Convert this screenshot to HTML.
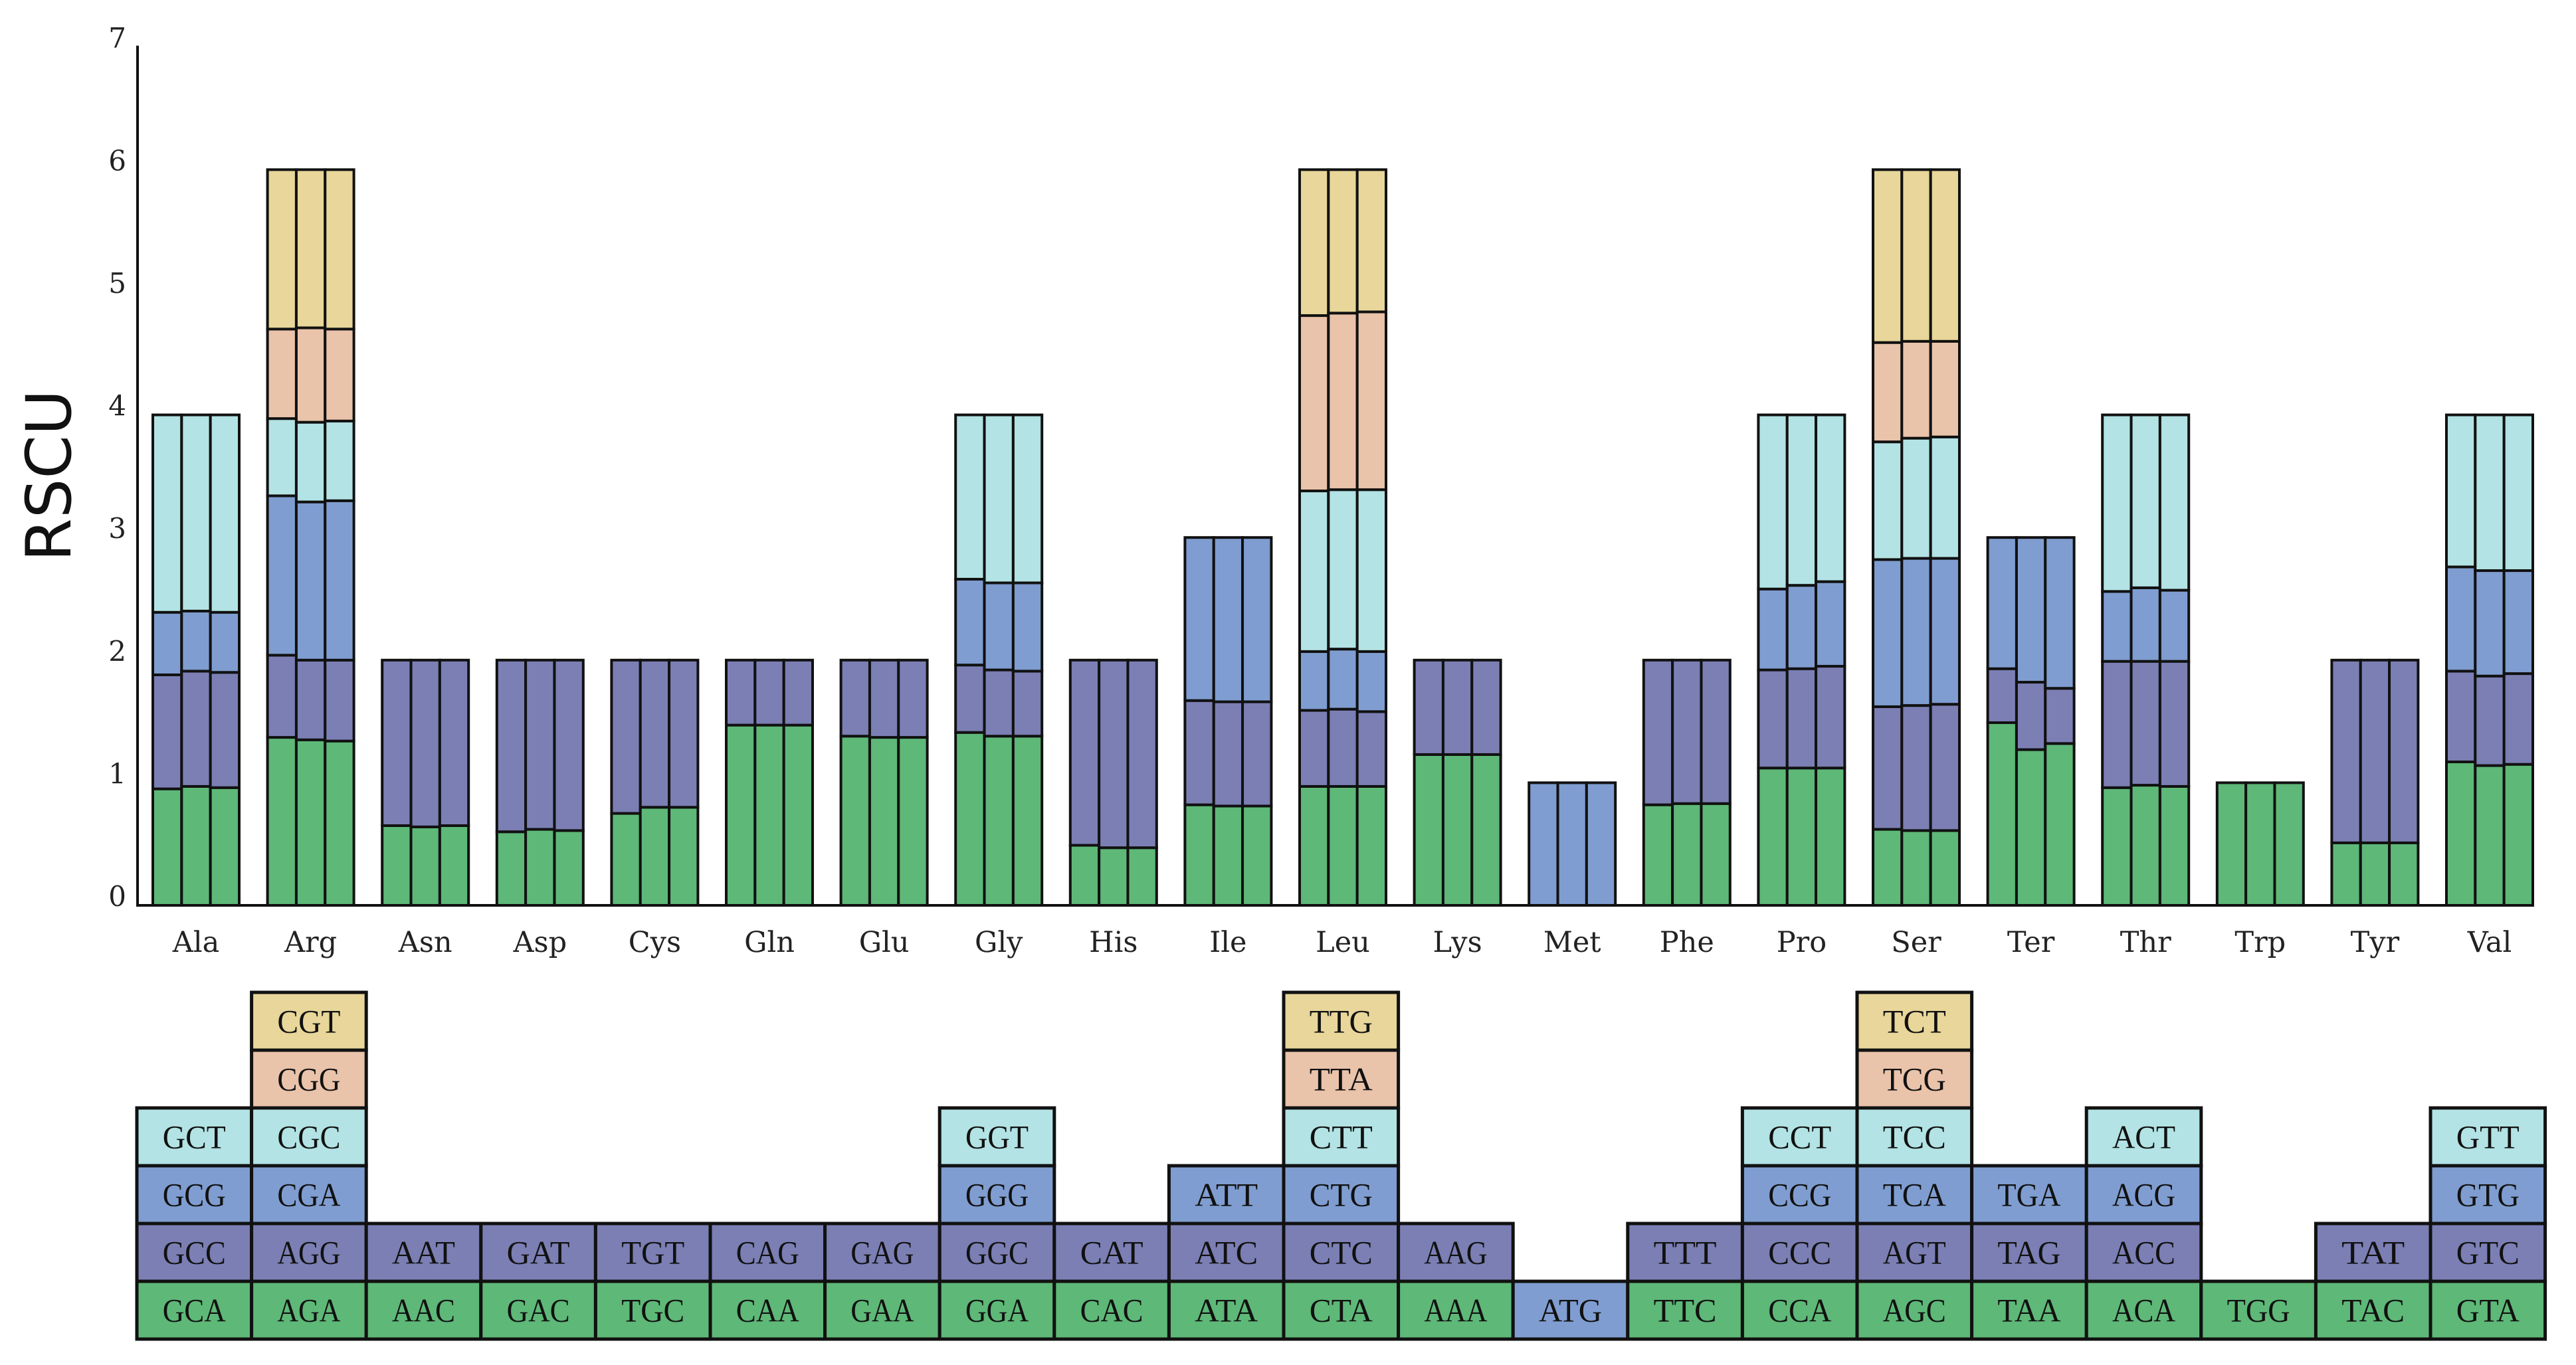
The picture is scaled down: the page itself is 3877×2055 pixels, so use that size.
<!DOCTYPE html>
<html><head><meta charset="utf-8"><style>
html,body{margin:0;padding:0;background:#fff;}
svg{display:block;}
</style></head><body>
<svg id="chart" width="3877" height="2055" viewBox="0 0 3877 2055" xmlns="http://www.w3.org/2000/svg">
<g id="bars"></g>
<g id="axes"></g>
<g id="table"></g>
</svg>
<script>
const aminoAcids = ["Ala","Arg","Asn","Asp","Cys","Gln","Glu","Gly","His","Ile","Leu","Lys","Met","Phe","Pro","Ser","Ter","Thr","Trp","Tyr","Val"];
// codons per amino acid, bottom to top
const codons = [
 ["GCA","GCC","GCG","GCT"],
 ["AGA","AGG","CGA","CGC","CGG","CGT"],
 ["AAC","AAT"],["GAC","GAT"],["TGC","TGT"],["CAA","CAG"],["GAA","GAG"],
 ["GGA","GGC","GGG","GGT"],["CAC","CAT"],["ATA","ATC","ATT"],
 ["CTA","CTC","CTG","CTT","TTA","TTG"],["AAA","AAG"],["ATG"],["TTC","TTT"],
 ["CCA","CCC","CCG","CCT"],["AGC","AGT","TCA","TCC","TCG","TCT"],
 ["TAA","TAG","TGA"],["ACA","ACC","ACG","ACT"],["TGG"],["TAC","TAT"],
 ["GTA","GTC","GTG","GTT"]
];
// RSCU values per species (3), per codon (bottom to top)
const sp1 = [
 [0.95,0.93,0.51,1.61],[1.37,0.67,1.30,0.63,0.73,1.30],[0.65,1.35],[0.60,1.40],[0.75,1.25],[1.47,0.53],[1.38,0.62],
 [1.41,0.55,0.70,1.34],[0.49,1.51],[0.82,0.85,1.33],[0.97,0.62,0.48,1.31,1.43,1.19],[1.23,0.77],[1.00],[0.82,1.18],
 [1.12,0.80,0.66,1.42],[0.62,1.00,1.20,0.96,0.81,1.41],[1.49,0.44,1.07],[0.96,1.03,0.57,1.44],[1.00],[0.51,1.49],
 [1.17,0.74,0.85,1.24]
];
const sp2 = [
 [0.97,0.94,0.49,1.60],[1.35,0.65,1.29,0.65,0.77,1.29],[0.64,1.36],[0.62,1.38],[0.80,1.20],[1.47,0.53],[1.37,0.63],
 [1.38,0.54,0.71,1.37],[0.47,1.53],[0.81,0.85,1.34],[0.97,0.63,0.49,1.30,1.44,1.17],[1.23,0.77],[1.00],[0.83,1.17],
 [1.12,0.81,0.68,1.39],[0.61,1.02,1.20,0.98,0.79,1.40],[1.27,0.55,1.18],[0.98,1.01,0.60,1.41],[1.00],[0.51,1.49],
 [1.14,0.73,0.86,1.27]
];
const sp3 = [
 [0.96,0.94,0.49,1.61],[1.34,0.66,1.30,0.65,0.75,1.30],[0.65,1.35],[0.61,1.39],[0.80,1.20],[1.47,0.53],[1.37,0.63],
 [1.38,0.53,0.72,1.37],[0.47,1.53],[0.81,0.85,1.34],[0.97,0.61,0.49,1.32,1.45,1.16],[1.23,0.77],[1.00],[0.83,1.17],
 [1.12,0.83,0.69,1.36],[0.61,1.03,1.19,0.99,0.78,1.40],[1.32,0.45,1.23],[0.97,1.02,0.58,1.43],[1.00],[0.51,1.49],
 [1.15,0.74,0.84,1.27]
];
const yTicks = ["0","1","2","3","4","5","6","7"];

const colors = ["#5eb878","#7b7fb4","#7f9dd0","#b3e3e4","#e9c3aa","#e8d69a"];
const NS = "http://www.w3.org/2000/svg";
const x0 = 230, step = 172.6, gw = 130, y0 = 1363, unit = 184.6;
const yScale = v => y0 - v * unit;
const xGroup = i => x0 + i * step;
function mk(tag, attrs, parent){ const e=document.createElementNS(NS,tag); for(const k in attrs) e.setAttribute(k,attrs[k]); parent.appendChild(e); return e; }
function colorIdx(ai, ci){ return aminoAcids[ai]==="Met" ? 2 : ci; }

const barsG = document.getElementById('bars');
const species = [sp1, sp2, sp3];
aminoAcids.forEach((aa, ai) => {
  species.forEach((sp, si) => {
    const bw = gw/3, bx = xGroup(ai) + si*bw;
    let cum = 0;
    sp[ai].forEach((v, ci) => {
      const r = mk('rect', {x:bx, y:yScale(cum+v), width:bw, height:v*unit, fill:colors[colorIdx(ai,ci)], stroke:'#111', 'stroke-width':4}, barsG);
      
      
      cum += v;
    });
  });
});

const axG = document.getElementById('axes');
const yl = mk('line',{x1:207,y1:y0,x2:3812,y2:y0,stroke:'#111','stroke-width':4},axG);
 
const yl2 = mk('line',{x1:207,y1:yScale(7)-2,x2:207,y2:y0+2,stroke:'#111','stroke-width':4},axG);
 
yTicks.forEach((t, i) => {
  const tx = mk('text',{x:190,y:yScale(+t)+1,'text-anchor':'end','font-family':'DejaVu Serif, Liberation Serif, serif','font-size':42,fill:'#222'},axG);
  tx.textContent = t;
   
});
aminoAcids.forEach((aa, ai) => {
  const tx = mk('text',{x:xGroup(ai)+gw/2,y:1433,'text-anchor':'middle','font-family':'DejaVu Serif, Liberation Serif, serif','font-size':43,fill:'#222'},axG);
  tx.textContent = aa;
   
});
const yt = mk('text',{x:0,y:0,'text-anchor':'middle','font-family':'DejaVu Sans, Liberation Sans, sans-serif','font-size':94,fill:'#111',transform:'translate(106,716) rotate(-90)',textLength:259,lengthAdjust:'spacingAndGlyphs'},axG);
yt.textContent = 'RSCU';
 

const tG = document.getElementById('table');
const cellW = 172.6, cellH = 87, tx0 = 206, tBottom = 2016;
aminoAcids.forEach((aa, ai) => {
  codons[ai].forEach((cd, ci) => {
    const cx = tx0 + ai*cellW, cy = tBottom - (ci+1)*cellH;
    const r = mk('rect',{x:cx,y:cy,width:cellW,height:cellH,fill:colors[colorIdx(ai,ci)],stroke:'#111','stroke-width':5},tG);
     
    const t = mk('text',{x:cx+cellW/2,y:cy+cellH/2+17,'text-anchor':'middle','font-family':'Liberation Serif, serif','font-size':50,fill:'#111',textLength:95,lengthAdjust:'spacingAndGlyphs'},tG);
    t.textContent = cd;
     
  });
});
</script>
</body></html>
